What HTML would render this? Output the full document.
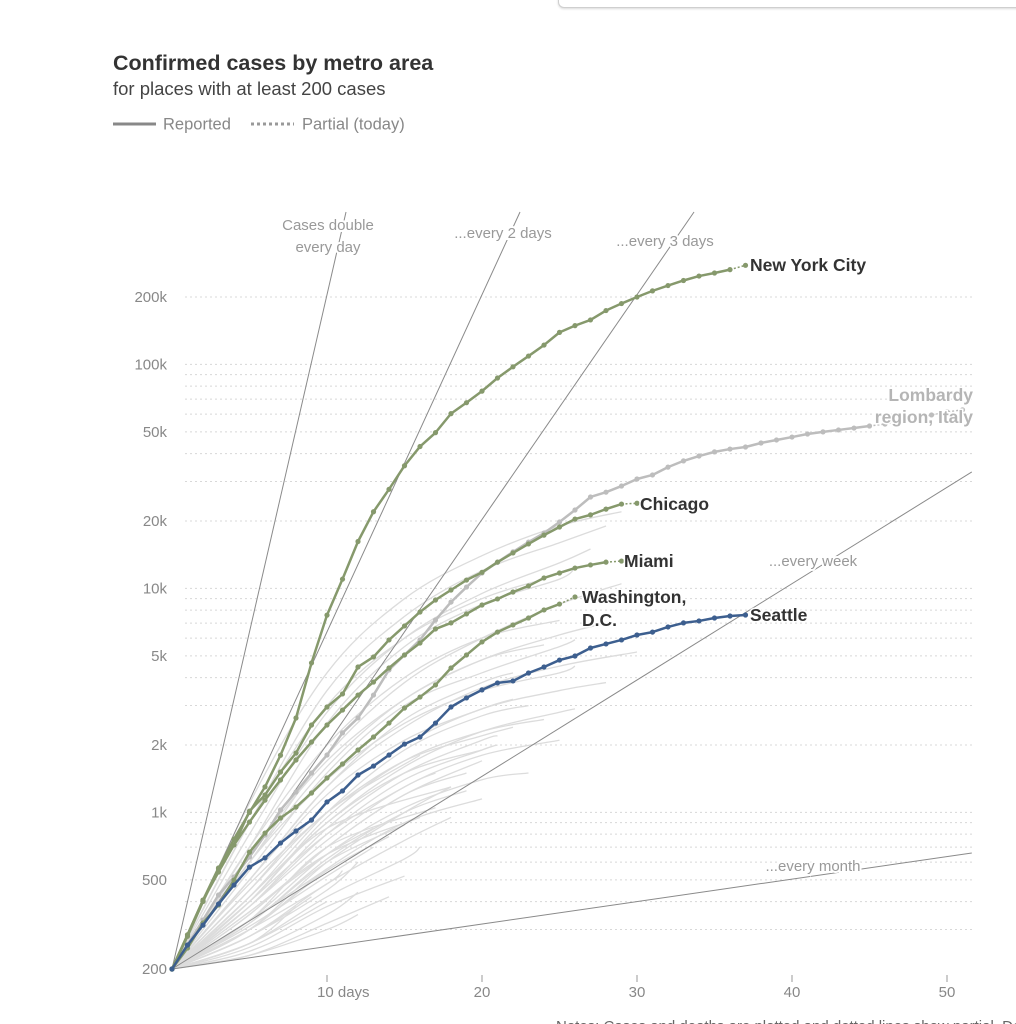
<!DOCTYPE html>
<html><head><meta charset="utf-8"><style>
html,body{margin:0;padding:0;background:#fff;}
body{width:1016px;height:1024px;overflow:hidden;position:relative;font-family:"Liberation Sans",sans-serif;}
#topbox{position:absolute;left:558px;top:-20px;width:480px;height:26px;border:1px solid #cfcfcf;border-radius:6px;box-shadow:0 1px 2px rgba(0,0,0,0.15);background:#fff;}
svg{position:absolute;left:0;top:0;}
</style></head><body>
<div id="topbox"></div>
<svg id="chart" width="1016" height="1024" viewBox="0 0 1016 1024">
<text x="113" y="70" font-size="21.5" font-weight="bold" fill="#333">Confirmed cases by metro area</text>
<text x="113" y="95" font-size="18.5" fill="#444">for places with at least 200 cases</text>
<g>
<line x1="113" y1="124" x2="156" y2="124" stroke="#888" stroke-width="3"/>
<text x="163" y="129.5" font-size="16.5" fill="#888">Reported</text>
<line x1="251" y1="124" x2="294" y2="124" stroke="#999" stroke-width="3" stroke-dasharray="3,3"/>
<text x="302" y="129.5" font-size="16.5" fill="#888">Partial (today)</text>
</g>
<g id="grid"></g><g id="bg"></g><g id="refs"></g><g id="series"></g><g id="labels"></g>
<text x="556" y="1031" font-size="15" fill="#666">Notes: Cases and deaths are plotted and dotted lines show partial. Doubling</text>
</svg>
<script>
const yTicks=[200,500,1000,2000,5000,10000,20000,50000,100000,200000];
const yTickLabels=["200","500","1k","2k","5k","10k","20k","50k","100k","200k"];
const xTicks=[10,20,30,40,50];
const xTickLabels=["10 days","20","30","40","50"];
const doublingDays=[1,2,3,7,30];
const nyc=[200,280,400,560,760,1000,1300,1800,2640,4650,7600,11000,16200,22000,27700,35300,43000,49600,60300,67500,76000,87000,97600,109000,122000,139000,149000,158000,174000,187000,200000,213000,225000,237000,248000,256000,265000,277000];
const chicago=[200,284,406,565,716,1014,1197,1515,1842,2456,2956,3380,4460,4944,5888,6800,7850,8880,9840,10900,11800,13100,14400,15800,17300,18800,20400,21300,22600,23800,24000];
const miami=[200,284,406,542,716,906,1135,1396,1714,2062,2456,2864,3342,3820,4414,5046,5704,6592,7016,7692,8434,8974,9640,10260,11140,11720,12330,12730,13100,13250];
const washington=[200,248,321,386,499,665,809,944,1057,1221,1425,1645,1900,2171,2506,2925,3274,3708,4414,5046,5768,6384,6870,7380,8016,8516,9160];
const seattle=[200,256,314,390,474,570,627,730,826,925,1114,1247,1469,1611,1804,2019,2171,2506,2956,3245,3524,3785,3863,4192,4460,4788,4992,5421,5652,5888,6196,6384,6729,7016,7160,7380,7534,7610];
const lombardy=[200,256,331,428,515,632,793,1026,1234,1500,1804,2265,2642,3342,4328,5046,5888,7228,8690,10140,11720,13100,14560,16100,17660,19800,22400,25600,26900,28650,30800,32100,34800,37100,39000,40700,41900,42800,44600,46000,47400,48900,50000,51000,52000,53100,54200,55900,57700,59500,61400,62700];
const lombardySolidEnd=45;
const bgEnds=[29,28,27,26,24,29,25,28,26,30,26,28,22,26,24,22,21,25,20,19,23,18,17,16,20,15,14,18,13,12,16,11,10,15,9,12,8,14,18,20,17,22,24,12,16,19,21,13,10,23];
const bgVals=[
[200,1100,4200,9000,14000,19000,22000],[200,900,3500,7500,12000,16000,19000],[200,800,2800,6000,9500,13000,15000],
[200,700,2500,5500,8500,11000,12500],[200,900,3000,6000,9000,11000],[200,600,1800,3800,6000,8500,10500],
[200,700,2000,4000,6000,7200],[200,650,1700,3200,4800,6200,7000],[200,550,1500,3000,4200,5500,5900],
[200,500,1300,2400,3600,4500,5200],[200,600,1400,2500,3500,4200,4500],[200,450,1100,2000,2900,3500,3800],
[200,500,1200,2100,2900,3200],[200,420,900,1600,2300,2800,2900],[200,400,950,1700,2300,2600],
[200,480,1000,1700,2200,2400],[200,380,800,1400,1900,2000],[200,380,750,1300,1800,2100],
[200,420,900,1500,1900],[200,350,700,1200,1500],[200,330,650,1050,1400,1500],[200,400,850,1300],
[200,330,700,1050],[200,360,650,950],[200,300,560,900,1150],[200,320,600,880],[200,300,550,780],
[200,280,480,750,950],[200,310,520,700],[200,280,450,600],[200,260,420,620,700],[200,300,480,550],
[200,260,400],[200,250,380,520],[200,280,420],[200,240,350,440],[200,260,380],[200,230,320,420],
[200,300,600,1000,1300],[200,350,700,1200,1700],[200,400,800,1300,1500],[200,500,1300,2600,3800,4200],
[200,600,1600,3200,4800,5600],[200,230,300,350],[200,450,1000,1800],[200,320,620,1000,1250],
[200,380,850,1500,2100,2200],[200,360,650,850],[200,330,560],[200,420,1000,1900,2700,3000]];

const NS="http://www.w3.org/2000/svg";
function X(d){return 172+15.5*d;}
function Y(v){return 969-224*Math.log10(v/200);}
function mk(tag,attrs,parent){const e=document.createElementNS(NS,tag);for(const k in attrs)e.setAttribute(k,attrs[k]);parent.appendChild(e);return e;}
const grid=document.getElementById('grid'),bg=document.getElementById('bg'),refs=document.getElementById('refs'),ser=document.getElementById('series'),lab=document.getElementById('labels');

for(let p=100;p<=100000;p*=10){for(let m=1;m<=9;m++){const v=m*p;if(v<300||v>200000)continue;
 const l=mk('line',{x1:185,x2:972,y1:Y(v),y2:Y(v),stroke:'#d8d8d8','stroke-width':1,'stroke-dasharray':'2,3'},grid);
 
 }}
yTicks.forEach((v,i)=>{const t=mk('text',{x:167,y:Y(v)+5,'text-anchor':'end','font-size':15,fill:'#888'},grid);t.textContent=yTickLabels[i];
 
 });
xTicks.forEach((d,i)=>{const l=mk('line',{x1:X(d),x2:X(d),y1:975,y2:982,stroke:'#999'},grid);
 
 
 const t=mk('text',{x:i==0?X(d)-10:X(d),y:997,'text-anchor':i==0?'start':'middle','font-size':15,fill:'#888'},grid);t.textContent=xTickLabels[i];
 
 });

function smooth(pts){let d='M'+pts[0][0]+','+pts[0][1];for(let i=0;i<pts.length-1;i++){const p0=pts[Math.max(0,i-1)],p1=pts[i],p2=pts[i+1],p3=pts[Math.min(pts.length-1,i+2)];
 const c1=[p1[0]+(p2[0]-p0[0])/6,p1[1]+(p2[1]-p0[1])/6],c2=[p2[0]-(p3[0]-p1[0])/6,p2[1]-(p3[1]-p1[1])/6];
 d+=' C'+c1[0]+','+c1[1]+' '+c2[0]+','+c2[1]+' '+p2[0]+','+p2[1];}return d;}

bgVals.forEach((vals,i)=>{const n=vals.length;const pts=vals.map((v,k)=>[X(k==n-1?bgEnds[i]:k*5),Y(v)]);
 const p=mk('path',{d:smooth(pts),fill:'none',stroke:'#dcdcdc','stroke-width':1.3},bg);
 
 });

const topY=212;
doublingDays.forEach(dd=>{let t=51.6;let v=200*Math.pow(2,t/dd);let yy=Y(v);
 if(yy<topY){v=200*Math.pow(10,(969-topY)/224);t=dd*Math.log2(v/200);yy=topY;}
 const l=mk('line',{x1:X(0),y1:Y(200),x2:X(t),y2:yy,stroke:'#8a8a8a','stroke-width':1},refs);
 
 });
const refLabels=[["Cases double",328,230],["every day",328,252],["...every 2 days",503,238],["...every 3 days",665,246],["...every week",813,566],["...every month",813,871]];
refLabels.forEach(r=>{const t=mk('text',{x:r[1],y:r[2],'text-anchor':'middle','font-size':15,fill:'#999',stroke:'#fff','stroke-width':4,'paint-order':'stroke'},refs);t.textContent=r[0];
 
 });

function drawSeries(vals,color,name,solidEnd,width){
 const pts=vals.map((v,i)=>[X(i),Y(v)]);
 const se=solidEnd==null?pts.length-2:solidEnd;
 const g=mk('g',{},ser);
 
 
 const solid=pts.slice(0,se+1);
 const p=mk('path',{d:solid.map((q,i)=>(i?'L':'M')+q[0]+','+q[1]).join(' '),fill:'none',stroke:color,'stroke-width':width,'stroke-linejoin':'round'},g);
 
 
 if(se<pts.length-1){const dp=pts.slice(se);
  const q=mk('path',{d:dp.map((q,i)=>(i?'L':'M')+q[0]+','+q[1]).join(' '),fill:'none',stroke:color,'stroke-width':1.5,'stroke-dasharray':'2,2'},g);
  
  }
 pts.forEach(q=>{const c=mk('circle',{cx:q[0],cy:q[1],r:2.6,fill:color},g);
  
  });
}
drawSeries(lombardy,'#bdbdbd','lombardy',lombardySolidEnd,2.5);
drawSeries(washington,'#86996c','washington',null,2.5);
drawSeries(miami,'#86996c','miami',null,2.5);
drawSeries(chicago,'#86996c','chicago',null,2.5);
drawSeries(nyc,'#86996c','new-york-city',null,2.5);
drawSeries(seattle,'#3d5f8f','seattle',seattle.length-1,2.5);

const seriesLabels=[["New York City",750,271,'#333','start'],["Chicago",640,510,'#333','start'],["Miami",624,567,'#333','start'],["Washington,",582,603,'#333','start'],["D.C.",582,626,'#333','start'],["Seattle",750,621,'#333','start'],["Lombardy",973,401,'#b5b5b5','end'],["region, Italy",973,423,'#b5b5b5','end']];
seriesLabels.forEach(s=>{const t=mk('text',{x:s[1],y:s[2],'text-anchor':s[4],'font-size':17.5,'font-weight':'bold',fill:s[3],stroke:'#fff','stroke-width':3,'paint-order':'stroke'},lab);t.textContent=s[0];
 
 });
</script>
</body></html>
